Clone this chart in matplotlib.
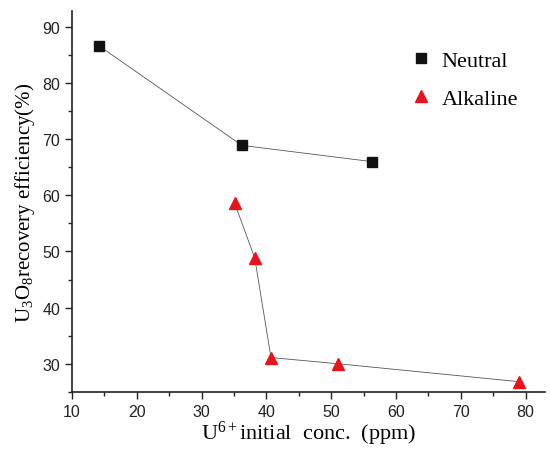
import numpy as np
import matplotlib
matplotlib.use("Agg")
import matplotlib.pyplot as plt
from matplotlib.ticker import MultipleLocator

#%% datos
conc_neutro = [14.2, 36.2, 56.3]
efic_neutro = [86.6, 68.9, 66.0]

conc_alcalino = [35.1, 38.2, 40.7, 51.0, 79.0]
efic_alcalino = [58.6, 48.8, 31.1, 30.0, 26.8]

#%% grafico
plt.rcParams['font.family'] = 'Liberation Sans'
plt.rcParams['mathtext.fontset'] = 'custom'
plt.rcParams['mathtext.rm'] = 'Liberation Serif'
plt.rcParams['mathtext.it'] = 'Liberation Serif'
plt.rcParams['mathtext.default'] = 'rm'

fig = plt.figure(figsize=(5.5, 4.52), dpi=100)
ax = fig.add_axes([0.131, 0.131, 0.86, 0.842])

ax.plot(conc_neutro, efic_neutro, '-', color='#555555', lw=0.6, zorder=1)
ax.plot(conc_neutro, efic_neutro, 's', color='#111111', ms=7, ls='none',
        label='Neutral', zorder=2)
ax.plot(conc_alcalino, efic_alcalino, '-', color='#555555', lw=0.6, zorder=1)
ax.plot(conc_alcalino, efic_alcalino, '^', color='#e8141c', ms=8, ls='none',
        label='Alkaline', zorder=2)

ax.set_xlim(10, 83)
ax.set_ylim(25, 92.8)
ax.xaxis.set_minor_locator(MultipleLocator(5))
ax.yaxis.set_minor_locator(MultipleLocator(5))
ax.set_xticks(np.arange(10, 81, 10))
ax.set_yticks(np.arange(30, 91, 10))

ax.spines['top'].set_visible(False)
ax.spines['right'].set_visible(False)
for s in ['left', 'bottom']:
    ax.spines[s].set_linewidth(1.2)
    ax.spines[s].set_color('#222222')

ax.tick_params(which='major', direction='out', length=5, width=1, labelsize=11.5,
               colors='#222222')
ax.tick_params(which='minor', direction='out', length=3, width=1, colors='#222222')

ax.set_xlabel(r'U$^{6+}$initial  conc.  (ppm)', family='Liberation Serif',
              fontsize=16, labelpad=0)
ax.set_ylabel(r'U$_3$O$_8$recovery efficiency(%)', family='Liberation Serif',
              fontsize=15, labelpad=4)

leg = ax.legend(loc='upper right', bbox_to_anchor=(0.985, 0.95), frameon=False,
                prop={'family': 'Liberation Serif', 'size': 16},
                handlelength=0.8, handletextpad=0.5, labelspacing=0.8)

fig.savefig('out.png', dpi=100)
